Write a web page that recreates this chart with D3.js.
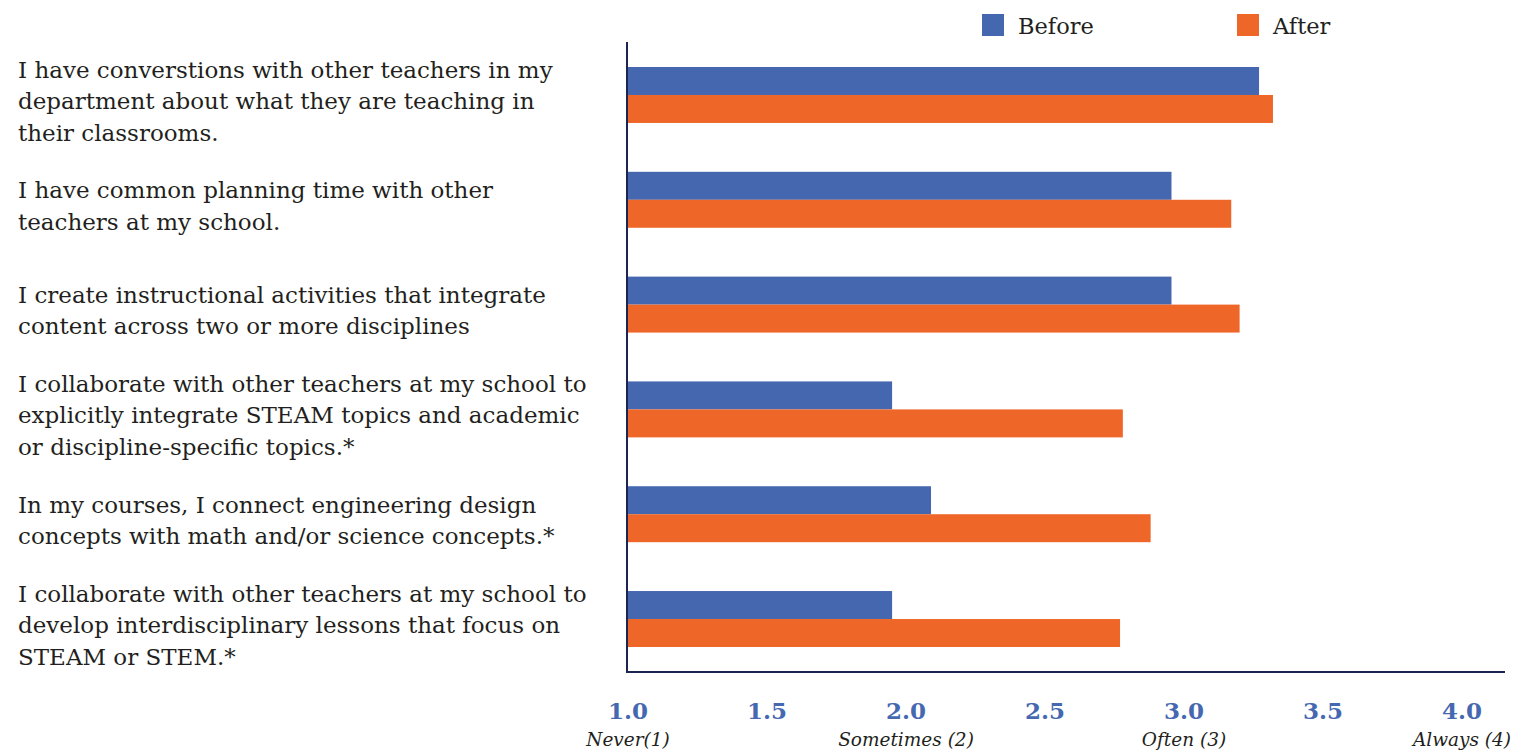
<!DOCTYPE html>
<html>
<head>
<meta charset="utf-8">
<script src="https://cdn.jsdelivr.net/npm/d3@7"></script>
<style>
  body { margin: 0; background: #fff; }
  .qlabel { font-family: "DejaVu Serif", serif; font-size: 23px; fill: #231f20; }
  .tick-num { font-family: "DejaVu Serif", serif; font-weight: bold; font-size: 23px; fill: #4568b1; }
  .tick-word { font-family: "DejaVu Serif", serif; font-style: italic; font-size: 18.5px; fill: #231f20; }
  .legend text { font-family: "DejaVu Serif", serif; font-size: 22.5px; fill: #231f20; }
</style>
</head>
<body>
<div class="chart"></div>
<script>
var svgWidth = 1515;
var svgHeight = 751;

// questions, top to bottom (already wrapped the way the reference wraps them)
var questions = [
  ["I have converstions with other teachers in my", "department about what they are teaching in", "their classrooms."],
  ["I have common planning time with other", "teachers at my school."],
  ["I create instructional activities that integrate", "content across two or more disciplines"],
  ["I collaborate with other teachers at my school to", "explicitly integrate STEAM topics and academic", "or discipline-specific topics.*"],
  ["In my courses, I connect engineering design", "concepts with math and/or science concepts.*"],
  ["I collaborate with other teachers at my school to", "develop interdisciplinary lessons that focus on", "STEAM or STEM.*"]
];
var before = [3.27, 2.955, 2.955, 1.95, 2.09, 1.95];
var after = [3.32, 3.17, 3.20, 2.78, 2.88, 2.77];
var seriesNames = ["Before", "After"];
var tickValues = [1.0, 1.5, 2.0, 2.5, 3.0, 3.5, 4.0];
var tickWords = [[1, "Never(1)"], [2, "Sometimes (2)"], [3, "Often (3)"], [4, "Always (4)"]];

var colors = { Before: "#4567b0", After: "#ef6629" };

var svg = d3.select(".chart")
  .append("svg")
  .attr("width", svgWidth)
  .attr("height", svgHeight);

var x = d3.scaleLinear().domain([1, 4]).range([628, 1462]);

var ids = questions.map(function(q, i) { return i; });
var y = d3.scaleBand().domain(ids).range([42, 672]).paddingInner(0.466).paddingOuter(0.2385);
var ySub = d3.scaleBand().domain(seriesNames).range([0, y.bandwidth()]);

var rows = ids.map(function(i) {
  return { id: i, q: questions[i], vals: [{ s: "Before", v: before[i] }, { s: "After", v: after[i] }] };
});

// bars
var groups = svg.append("g").selectAll("g")
  .data(rows)
  .enter()
  .append("g")
  .attr("transform", function(d) { return "translate(0," + y(d.id) + ")"; });

groups.selectAll("rect")
  .data(function(d) { return d.vals; })
  .enter()
  .append("rect")
  .attr("x", x(1))
  .attr("y", function(d) { return ySub(d.s); })
  .attr("width", function(d) { return x(d.v) - x(1); })
  .attr("height", ySub.bandwidth())
  .attr("fill", function(d) { return colors[d.s]; });

// question labels on the left
var lineH = 31.5;
groups.append("text")
  .attr("class", "qlabel")
  .each(function(d) {
    var t = d3.select(this);
    var n = d.q.length;
    var mid = y.bandwidth() / 2 + 6;
    d.q.forEach(function(line, k) {
      t.append("tspan")
        .attr("x", 18)
        .attr("y", mid + (k - (n - 1) / 2) * lineH)
        .attr("dy", "0.35em")
        .text(line);
    });
  });

// axis lines
var axisColor = "#1c2452";
svg.append("line")
  .attr("x1", 627).attr("x2", 627)
  .attr("y1", 42).attr("y2", 672.5)
  .attr("stroke", axisColor).attr("stroke-width", 2);
svg.append("line")
  .attr("x1", 626).attr("x2", 1505)
  .attr("y1", 672).attr("y2", 672)
  .attr("stroke", axisColor).attr("stroke-width", 2);

// tick numbers
svg.append("g").selectAll("text")
  .data(tickValues)
  .enter()
  .append("text")
  .attr("class", "tick-num")
  .attr("x", function(d) { return x(d); })
  .attr("y", 719)
  .attr("text-anchor", "middle")
  .text(function(d) { return d3.format(".1f")(d); });

svg.append("g").selectAll("text")
  .data(tickWords)
  .enter()
  .append("text")
  .attr("class", "tick-word")
  .attr("x", function(d) { return x(d[0]); })
  .attr("y", 746)
  .attr("text-anchor", "middle")
  .text(function(d) { return d[1]; });

// legend
var legendX = { Before: 982, After: 1237 };
var legend = svg.append("g").attr("class", "legend")
  .selectAll("g")
  .data(seriesNames)
  .enter()
  .append("g")
  .attr("transform", function(d) { return "translate(" + legendX[d] + ",14)"; });
legend.append("rect")
  .attr("width", 22).attr("height", 22)
  .attr("fill", function(d) { return colors[d]; });
legend.append("text")
  .attr("x", 36).attr("y", 20)
  .text(function(d) { return d; });
</script>
</body>
</html>
